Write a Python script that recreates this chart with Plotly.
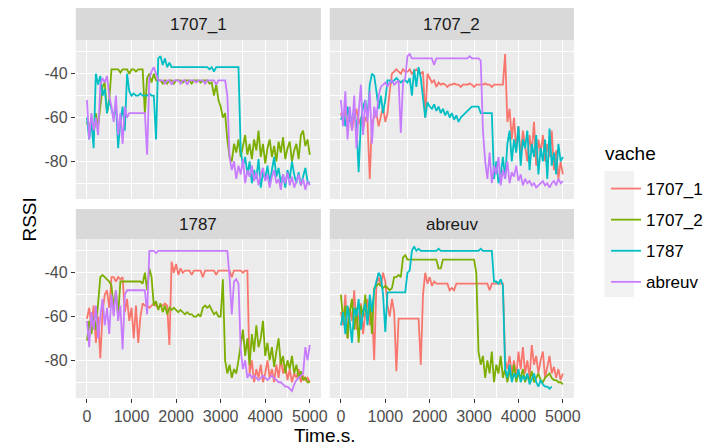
import plotly.graph_objects as go

# ---------------- data ----------------
time_s = list(range(0, 5001, 50))  # sampling grid (s)

facets = ["1707_1", "1707_2", "1787", "abreuv"]
series_names = ["1707_1", "1707_2", "1787", "abreuv"]
series_colors = ["#F8766D", "#7CAE00", "#00BFC4", "#C77CFF"]
x_ticks = [0, 1000, 2000, 3000, 4000, 5000]
y_ticks = [-80, -60, -40]
y_tick_labels = ["-80", "-60", "-40"]

# facet 1707_1
f1707_1_v1707_2 = [-62, -66, -60, -68, -58, -64, -55, -46, -44, -58, -52,
                   -38, -38, -38, -38, -39.5, -38, -38, -38, -40, -38, -38, -39, -38, -38,
                   -38, -58, -42, -40, -44, -40, -43,
                   -43, -43, -44.5, -43, -44.5, -43, -43, -44.5, -43, -43, -43, -44, -43, -43, -43, -44.5, -43, -43, -43, -44, -43, -43, -43, -44.5, -44,
                   -50, -45, -52, -55, -60, -58, -70, -78,
                   -80, -72, -76, -70, -78, -73, -68, -77, -72, -79, -70, -75, -66, -78, -72, -81, -74, -70,
                   -78, -73, -80, -71, -76, -69, -79, -74, -71, -80, -75, -72, -79, -68, -66, -73, -70, -77]
f1707_1_v1787 = [-60, -70, -62, -74, -40, -45, -41, -50, -47, -58, -52, -56, -60, -54, -74, -62, -55, -66,
                 -40, -48, -50, -49, -50, -50, -49, -50, -50, -50, -49, -50, -50, -70,
                 -33, -32, -36, -33, -37, -35, -37,
                 -37, -37, -37, -37, -37, -37, -37, -37, -37, -37, -37, -37, -37, -37, -37, -37,
                 -38, -37, -39, -37, -37, -37, -37, -37, -37, -37, -37, -37, -37, -37,
                 -75,
                 -82, -78, -86, -80, -90, -84, -88, -79, -92, -85, -88, -82, -90, -84, -78, -87,
                 -83, -90, -86, -92, -84, -88, -80, -86, -90, -85, -91, -87, -83, -89, -90]
f1707_1_vabreuv = [-52, -70, -58, -66, -60, -68, -45, -42, -44, -41, -50, -55, -62, -50, -68, -58, -72, -55, -60, -58,
                   -58, -58, -58, -58, -58, -58, -58,
                   -77, -42, -39, -37, -40, -43,
                   -43, -43, -44.5, -43, -43, -45, -43, -43, -43, -44.5, -43, -43, -45, -43, -43,
                   -43, -44, -43, -43, -43, -44.5, -43, -43, -43, -43, -45, -43, -43, -43, -43,
                   -50, -78,
                   -84, -80, -88, -82, -86, -79, -90, -84, -87, -82, -89, -85, -91, -86, -83, -89, -86, -92,
                   -87, -84, -90, -88, -93, -86, -90, -85, -91, -87, -92, -89, -86, -91, -88, -93, -89, -91]

# facet 1707_2
f1707_2_v1707_1 = [-58, -62, -55, -64, -58, -66, -60, -56, -63, -60, -65, -60, -62, -88, -62, -60, -58, -64, -60, -55, -62, -58,
                   -48, -40, -39, -38, -39, -40, -38, -39, -39, -38, -40, -39, -38, -39, -40, -39,
                   -60, -40, -42, -44, -43, -46, -44,
                   -45, -44.5, -45, -46, -45, -45, -44.5, -45, -45, -46, -45, -45, -45, -44.5, -45,
                   -46, -45, -45, -45, -45, -44.5, -45, -45, -46, -45, -45, -45, -45, -45,
                   -31,
                   -62, -56, -70, -60, -75, -64, -78, -66, -72, -80, -68, -76, -62,
                   -82, -70, -76, -68, -80, -72, -78, -66, -84, -75, -88, -80, -86]
f1707_2_v1787 = [-61, -58, -64, -55, -62, -60, -57, -63, -85, -62, -55, -52, -60, -45, -40, -41, -48, -56, -50, -58, -52, -43,
                 -43, -44, -43, -42, -43, -44, -43, -43,
                 -44, -42, -50, -38, -46, -37, -42, -50,
                 -60, -53, -55, -56, -54, -57, -55, -58, -56, -59, -57, -60, -58, -61, -59, -62,
                 -60, -59, -58, -57, -56, -55, -55, -55, -55, -58, -58, -58, -58, -58, -58,
                 -88,
                 -80, -90, -86, -78, -88, -72, -66, -80, -70, -76, -64, -82, -70, -74, -66, -84,
                 -72, -78, -68, -86, -74, -80, -70, -88, -65, -82, -76, -86, -72, -80, -78]
f1707_2_vabreuv = [-52, -64, -48, -70, -55, -66, -50, -74, -58, -45, -68, -52, -62, -48, -72, -55, -60, -50,
                   -46, -45, -44, -46, -44, -43, -45, -44, -43,
                   -67, -44, -42,
                   -32, -31, -33, -33, -33, -33, -33, -33, -33, -33, -33, -33, -36, -33, -33, -33, -33,
                   -33, -33, -33, -33, -33, -33, -33, -33, -33, -33, -33, -32, -33, -33, -33, -33, -34,
                   -66, -80, -88, -76, -90, -82, -86, -78, -91, -84, -88, -80, -90, -85, -87, -82, -89, -86, -91,
                   -88, -90, -89, -91, -90, -92, -91, -90, -89, -91, -90, -92, -90, -89, -91, -88, -90, -89]

# facet 1787
f1787_v1707_1 = [-61, -56, -65, -55, -72, -60, -79, -58, -50, -48, -56,
                 -42, -42, -44, -42, -43, -42,
                 -58, -52, -62, -56, -70, -55, -72, -60, -54,
                 -55, -55, -56, -55, -54, -55, -56, -55, -55, -54, -55,
                 -73,
                 -35, -40, -36, -41, -38, -40,
                 -39, -39, -39, -41, -39, -39, -39, -39, -42, -39, -39, -39, -39, -39, -41,
                 -39, -39, -39, -39, -39, -39, -42, -39, -39, -39, -39, -40, -39, -39,
                 -86, -80, -90, -84, -88, -82, -90, -86, -80, -88, -84, -90, -82, -88,
                 -79, -86, -82, -89, -84, -90, -86, -88, -84, -90, -87, -89, -88, -90]
f1787_v1707_2 = [-71, -62, -68, -60, -66, -55, -42, -41, -42, -43, -44, -46, -56, -48, -60,
                 -44, -44, -44, -44, -44, -44, -44, -44, -44, -44, -45,
                 -40, -48, -38, -42,
                 -55, -53, -57, -54, -58, -55, -59, -56, -57, -56, -57, -58, -57, -58, -59, -58,
                 -59, -59, -60, -60, -59, -60, -56, -55, -56, -55, -57, -59, -58, -60, -60,
                 -43, -80, -86, -82, -88, -84, -86, -80, -72, -66, -78, -70, -82, -68, -76, -64, -74, -70, -62, -78,
                 -72, -80, -74, -83, -76, -70, -82, -78, -86, -80, -84, -78, -86, -82, -88, -85, -89, -88, -90, -90]
f1787_vabreuv = [-62, -74, -58, -66, -55, -70, -60, -52, -64, -56, -68, -50, -60, -48, -62, -55, -75, -50,
                 -48, -48, -48, -48, -48, -48, -48, -48, -48,
                 -59,
                 -30, -30, -30, -31, -30, -30, -30, -30, -30, -30, -30, -30, -30, -30, -30, -30, -30, -30,
                 -30, -30, -30, -30, -30, -30, -30, -30, -30, -30, -30, -30, -30, -30, -30, -30, -30, -30,
                 -42, -59, -44, -43, -45,
                 -75, -84, -80, -88, -86, -88, -87, -88, -89, -88, -87, -88, -89, -88, -87, -88,
                 -89, -90, -90, -91, -92, -92, -93, -94, -91, -89, -88, -87, -86, -74, -80, -73]

# facet abreuv
fabreuv_v1707_1 = [-58, -64, -50, -70, -56, -62, -48, -66, -60, -54, -68, -58, -52, -64, -56,
                   -80, -45, -42, -46, -40, -44, -55, -60, -52, -58,
                   -85,
                   -61, -61, -61, -61, -61, -61, -61, -61, -61, -61,
                   -82, -50, -40, -45, -42, -46, -44,
                   -45, -45, -45, -45, -45, -45, -48, -47, -48, -45, -45, -45, -45, -45, -45, -45,
                   -45, -45, -45, -45, -45, -45, -45, -45, -48, -45, -45, -45, -45, -45, -45,
                   -80, -84, -78, -86, -80, -88, -76, -84, -74, -86, -80, -88, -73, -82,
                   -78, -86, -80, -76, -88, -82, -78, -86, -83, -88, -84, -89, -86]
fabreuv_v1707_2 = [-50, -62, -55, -70, -58, -52, -66, -56, -72, -55, -60, -50, -62, -54, -68,
                   -47, -46, -45, -46, -47, -46, -47, -48, -47,
                   -42, -42, -41, -42,
                   -33, -32,
                   -34, -34, -34, -34, -34, -34, -34, -34, -34, -34, -34, -34, -34, -34,
                   -38, -38,
                   -34, -34, -34, -34, -34, -34, -34, -34, -34, -34, -34, -34, -34, -34, -34,
                   -40, -76, -82, -78, -88, -80, -86, -76, -90, -82, -86, -78, -88, -84, -90, -85, -88, -82, -90, -86,
                   -88, -84, -90, -87, -89, -85, -90, -88, -86, -89, -90, -88, -87, -86, -88, -89, -89, -90, -90, -91]
fabreuv_v1787 = [-64, -58, -68, -55, -62, -72, -56, -60, -52, -66, -58, -54, -64, -50, -58, -48, -44, -40, -42, -50,
                 -67,
                 -49, -49, -49, -49, -49, -49, -49, -49, -49,
                 -40, -39,
                 -30, -28, -30, -29, -30, -30, -30, -30, -30, -30, -30, -30, -29, -30, -30, -30, -30, -30, -30,
                 -30, -30, -30, -30, -30, -30, -30, -30, -30, -30, -30, -30, -29, -30, -30, -30, -30, -30,
                 -44, -44, -45, -43, -46,
                 -84, -88, -82, -90, -86, -88, -84, -90, -87, -89, -86, -91, -88, -86, -90, -92, -89, -91,
                 -92, -92, -93, -92,
                 None, None, None, None, None]

panel_data = {
    "1707_1": {"1707_2": f1707_1_v1707_2, "1787": f1707_1_v1787, "abreuv": f1707_1_vabreuv},
    "1707_2": {"1707_1": f1707_2_v1707_1, "1787": f1707_2_v1787, "abreuv": f1707_2_vabreuv},
    "1787": {"1707_1": f1787_v1707_1, "1707_2": f1787_v1707_2, "abreuv": f1787_vabreuv},
    "abreuv": {"1707_1": fabreuv_v1707_1, "1707_2": fabreuv_v1707_2, "1787": fabreuv_v1787},
}
for f, d in panel_data.items():
    for s, v in d.items():
        assert len(v) == len(time_s), (f, s, len(v))

# ---------------- layout geometry ----------------
W, H = 708, 447
FONT = "Liberation Sans, Arial, sans-serif"
px_x = lambda p: p / W
px_y = lambda p: 1 - p / H

col_dom = [(px_x(77), px_x(326)), (px_x(335), px_x(583))]
row_dom = [(px_y(199), px_y(40)), (px_y(398), px_y(239))]
strip_dom = [(px_y(40), px_y(8)), (px_y(239), px_y(209))]

fig = go.Figure()
legend_done = set()
for k, facet in enumerate(facets):
    r, c = divmod(k, 2)
    ax = "" if k == 0 else str(k + 1)
    for s, col in zip(series_names, series_colors):
        if s not in panel_data[facet]:
            continue
        show = s not in legend_done
        legend_done.add(s)
        fig.add_trace(go.Scatter(
            x=time_s, y=panel_data[facet][s], mode="lines", name=s,
            line=dict(color=col, width=1.8), legendgroup=s, showlegend=show,
            legendrank=series_names.index(s) + 1,
            xaxis="x" + ax, yaxis="y" + ax, connectgaps=False))

    common_x = dict(domain=list(col_dom[c]), anchor="y" + ax, range=[-250, 5250],
                    tickmode="array", tickvals=x_ticks, ticktext=[str(v) for v in x_ticks],
                    showgrid=True, gridcolor="white", gridwidth=1.1,
                    zeroline=False, showline=False,
                    minor=dict(tick0=0, dtick=500, showgrid=True, gridcolor="white", gridwidth=0.5),
                    tickfont=dict(family=FONT, size=16, color="#4D4D4D"))
    if r == 1:
        common_x.update(showticklabels=True, ticks="outside", ticklen=4, tickwidth=1.1, tickcolor="#333333")
    else:
        common_x.update(showticklabels=False, ticks="")
    common_y = dict(domain=list(row_dom[r]), anchor="x" + ax, range=[-97.2, -24.6],
                    tickmode="array", tickvals=y_ticks, ticktext=y_tick_labels,
                    showgrid=True, gridcolor="white", gridwidth=1.1,
                    zeroline=False, showline=False,
                    minor=dict(tick0=0, dtick=10, showgrid=True, gridcolor="white", gridwidth=0.5),
                    tickfont=dict(family=FONT, size=16, color="#4D4D4D"))
    if c == 0:
        common_y.update(showticklabels=True, ticks="outside", ticklen=4, tickwidth=1.1, tickcolor="#333333")
    else:
        common_y.update(showticklabels=False, ticks="")
    fig.update_layout(**{"xaxis" + ax: common_x, "yaxis" + ax: common_y})

    # facet strip
    fig.add_shape(type="rect", xref="paper", yref="paper",
                  x0=col_dom[c][0], x1=col_dom[c][1], y0=strip_dom[r][0], y1=strip_dom[r][1],
                  fillcolor="#D9D9D9", line=dict(width=0), layer="below")
    fig.add_annotation(text=facet, xref="paper", yref="paper",
                       x=(col_dom[c][0] + col_dom[c][1]) / 2, y=(strip_dom[r][0] + strip_dom[r][1]) / 2,
                       showarrow=False, xanchor="center", yanchor="middle",
                       font=dict(family=FONT, size=17, color="#1A1A1A"))

# axis titles
fig.add_annotation(text="Time.s.", xref="paper", yref="paper", x=px_x(330), y=px_y(435),
                   showarrow=False, xanchor="center", yanchor="middle",
                   font=dict(family=FONT, size=19, color="black"))
fig.add_annotation(text="RSSI", xref="paper", yref="paper", x=px_x(29), y=px_y(220),
                   showarrow=False, xanchor="center", yanchor="middle", textangle=-90,
                   font=dict(family=FONT, size=19, color="black"))
# legend title
fig.add_annotation(text="vache", xref="paper", yref="paper", x=px_x(613), y=px_y(153),
                   showarrow=False, xanchor="left", yanchor="middle",
                   font=dict(family=FONT, size=19, color="black"))

# legend key background
fig.add_shape(type="rect", xref="paper", yref="paper", x0=px_x(614), x1=px_x(644),
              y0=px_y(297), y1=px_y(171), fillcolor="#F2F2F2", line=dict(width=0), layer="below")

fig.update_layout(
    width=W, height=H, margin=dict(l=0, r=0, t=0, b=0),
    paper_bgcolor="white", plot_bgcolor="#EBEBEB",
    font=dict(family=FONT),
    legend=dict(x=px_x(616), y=px_y(171), xanchor="left", yanchor="top",
                bgcolor="rgba(0,0,0,0)", font=dict(family=FONT, size=17, color="black"),
                traceorder="grouped", tracegroupgap=6),
)

fig.write_html("out.html", config={"displayModeBar": False},
               post_script="document.body.style.margin='0';document.body.style.padding='0';")
